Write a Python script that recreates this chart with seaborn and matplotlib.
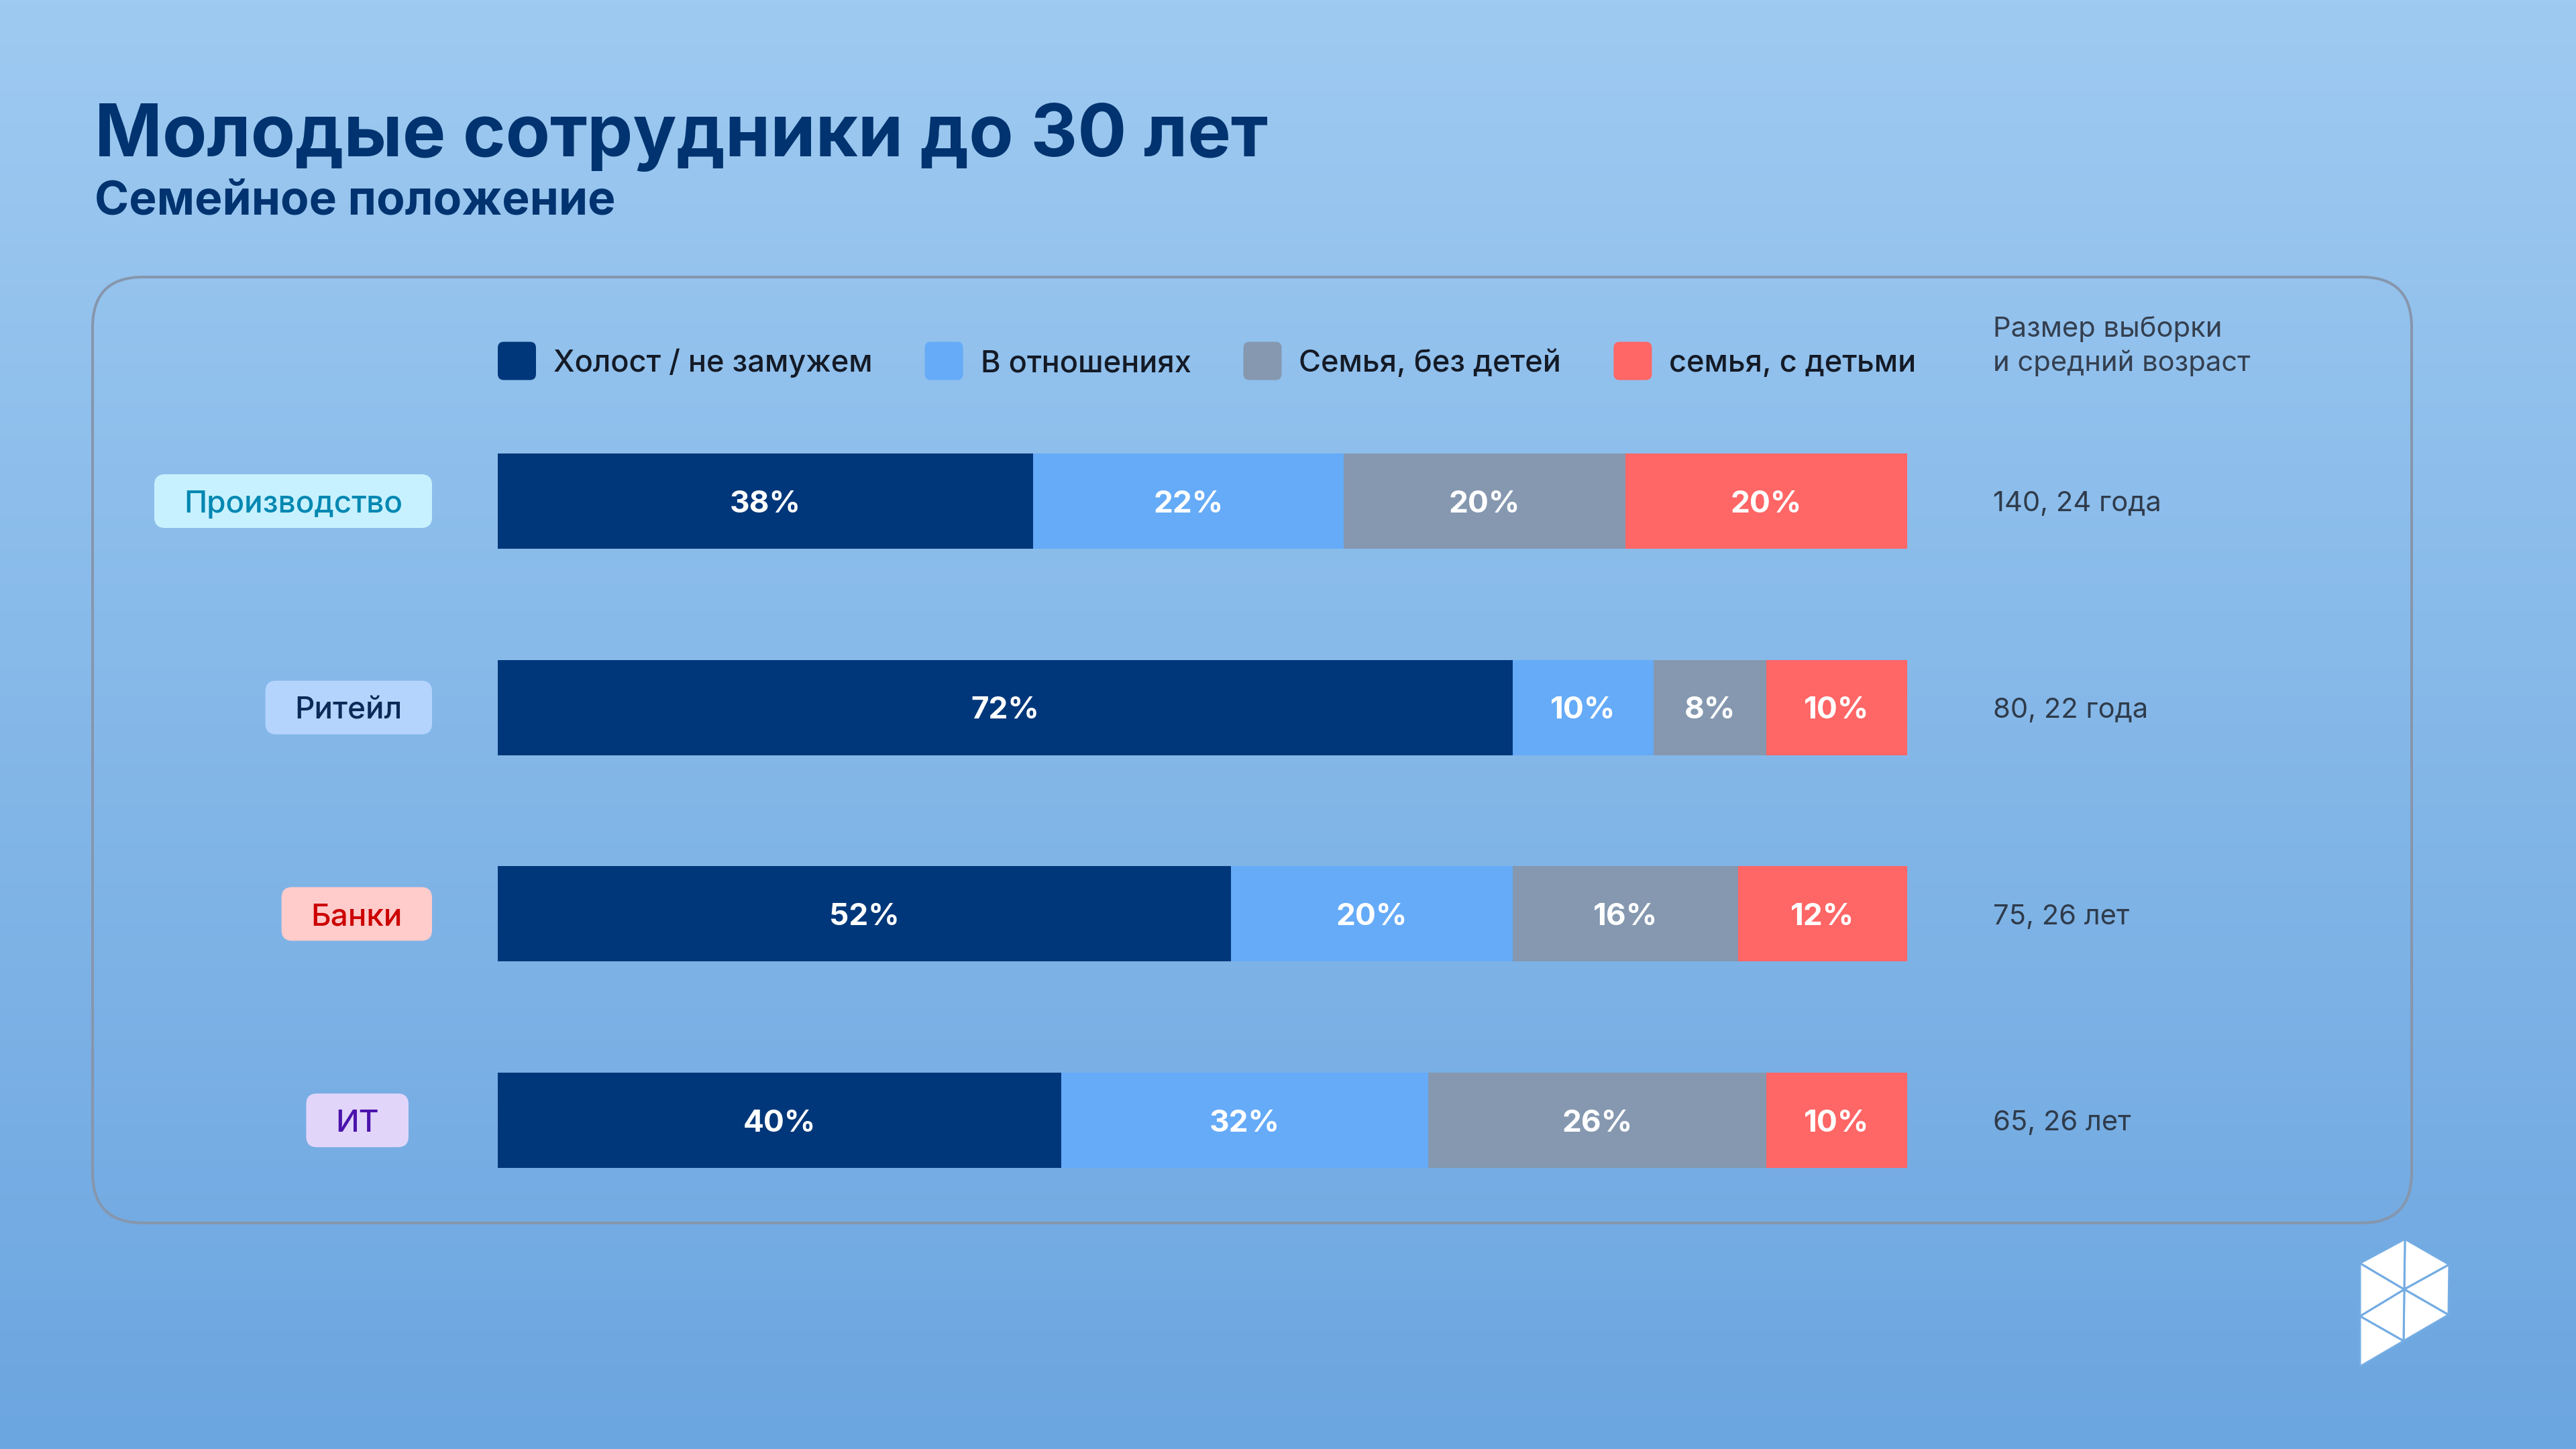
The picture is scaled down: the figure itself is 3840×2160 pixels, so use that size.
import numpy as np
import pandas as pd
import seaborn as sns
import matplotlib.pyplot as plt
from matplotlib import transforms
from matplotlib.colors import LinearSegmentedColormap
from matplotlib.patches import FancyBboxPatch, Polygon

sns.set_style("white")
plt.rcParams['font.family'] = ['Inter', 'DejaVu Sans']

# ---------------------------------
# Data
# ---------------------------------
sectors = ['Производство', 'Ритейл', 'Банки', 'ИТ']
statuses = ['Холост / не замужем', 'В отношениях',
            'Семья, без детей', 'семья, с детьми']

# Bar lengths (%) as drawn in the picture
single = [38, 72, 52, 40]
relationship = [22, 10, 20, 26]
family_no_kids = [20, 8, 16, 24]
family_kids = [20, 10, 12, 10]

# Printed segment labels
single_lbl = ['38%', '72%', '52%', '40%']
relationship_lbl = ['22%', '10%', '20%', '32%']
family_no_kids_lbl = ['20%', '8%', '16%', '26%']
family_kids_lbl = ['20%', '10%', '12%', '10%']

sample_info = ['140, 24 года', '80, 22 года', '75, 26 лет', '65, 26 лет']

title = 'Молодые сотрудники до 30 лет'
subtitle = 'Семейное положение'
side_header = ['Размер выборки', 'и средний возраст']

# ---------------------------------
# Style
# ---------------------------------
colors = ['#00377A', '#65ABF8', '#8598B0', '#FF6666']
pill_face = ['#C8F1FF', '#B4D4FE', '#FFCBCB', '#E1D5FA']
pill_text = ['#0087B2', '#0B2A58', '#CC0000', '#4B13AB']
pill_right = [644, 644, 644, 609]
navy = '#00336F'

W, H = 3840, 2160
fig = plt.figure(figsize=(W / 100, H / 100), dpi=100)

# pixel coordinates, origin top-left
P = transforms.Affine2D().scale(1 / W, -1 / H).translate(0, 1) + fig.transFigure


def cap_px(fs):
    return 0.727 * fs * 100 / 72


def shift(fs):
    return transforms.ScaledTranslation(0, -cap_px(fs) / 2 / 100, fig.dpi_scale_trans)


# Background gradient
bg = fig.add_axes([0, 0, 1, 1], zorder=-10)
cmap = LinearSegmentedColormap.from_list('bg', ['#9ECAF1', '#6CA6E0'])
bg.imshow(np.linspace(0, 1, 256).reshape(-1, 1), aspect='auto', cmap=cmap,
          extent=[0, 1, 0, 1], origin='upper')
bg.set_axis_off()

# ---------------------------------
# Stacked bars
# ---------------------------------
data = pd.DataFrame({'sector': sectors,
                     statuses[0]: single,
                     statuses[1]: relationship,
                     statuses[2]: family_no_kids,
                     statuses[3]: family_kids})
cum = data[statuses].cumsum(axis=1)
cum['sector'] = sectors
labels = [single_lbl, relationship_lbl, family_no_kids_lbl, family_kids_lbl]

row_px = 307.7
ax_top = 747 - row_px / 2
ax = fig.add_axes([742 / W, 1 - (ax_top + 4 * row_px) / H,
                   (2843 - 742) / W, 4 * row_px / H])
ax.patch.set_alpha(0)

for i in reversed(range(len(statuses))):
    sns.barplot(data=cum, x=statuses[i], y='sector', orient='h',
                color=colors[i], saturation=1, width=142 / row_px,
                linewidth=0, errorbar=None, ax=ax)

ax.set_xlim(0, 100)
ax.set_ylim(3.5, -0.5)
ax.set_axis_off()

for i, s in enumerate(statuses):
    for j in range(len(sectors)):
        xc = cum[s][j] - data[s][j] / 2
        ax.text(xc, j, labels[i][j], ha='center', va='baseline',
                color='white', fontsize=33, fontweight='bold',
                transform=ax.transData + shift(33))

# Row-linked texts: x in pixels, y in data
row_t = transforms.blended_transform_factory(P, ax.transData)

fig.canvas.draw()
renderer = fig.canvas.get_renderer()

for j, name in enumerate(sectors):
    t = fig.text(pill_right[j] - 44, j, name, ha='right', va='baseline',
                 fontsize=33, fontweight='medium', color=pill_text[j],
                 transform=row_t + shift(33))
    ext = t.get_window_extent(renderer)
    yc = H - ax.transData.transform((0, j))[1]
    fig.add_artist(FancyBboxPatch((ext.x0 - 44, yc - 40), ext.width + 88, 80,
                                  boxstyle='round,pad=0,rounding_size=16',
                                  fc=pill_face[j], ec='none', transform=P,
                                  zorder=1))
    t.set_zorder(2)

    fig.text(2971, j, sample_info[j], ha='left', va='baseline',
             fontsize=30, color='#2F3B4B', transform=row_t + shift(30))

# Side header
fig.text(2971, 502, side_header[0], transform=P, va='baseline',
         fontsize=30, color='#343F4F')
fig.text(2971, 553, side_header[1], transform=P, va='baseline',
         fontsize=30, color='#343F4F')

# Legend
x = 742
for i, s in enumerate(statuses):
    fig.add_artist(FancyBboxPatch((x, 538 - 28.5), 57, 57,
                                  boxstyle='round,pad=0,rounding_size=9',
                                  fc=colors[i], ec='none', transform=P))
    t = fig.text(x + 83, 538 + cap_px(32.5) / 2, s, transform=P, ha='left',
                 va='baseline', fontsize=32.5, fontweight='medium',
                 color='#141A26')
    x = x + 83 + t.get_window_extent(renderer).width + 78

# Titles
fig.text(141, 233, title, transform=P, fontsize=78, fontweight='bold',
         color=navy, va='baseline')
fig.text(141, 319, subtitle, transform=P, fontsize=50, fontweight='bold',
         color=navy, va='baseline')

# Panel frame
fig.add_artist(FancyBboxPatch((138, 413), 3595 - 138, 1823 - 413,
                              boxstyle='round,pad=0,rounding_size=75',
                              fc='none', ec='#8696AD', lw=2.9, transform=P))

# Logo
top, ul, ur = (3585, 1847), (3518, 1883), (3651, 1885)
c, lr, b = (3584, 1922), (3650, 1960), (3583, 1999)
ll, tip = (3518, 1962), (3518, 2037)
for tri in [(top, ur, c), (ur, lr, c), (lr, b, c), (b, ll, c),
            (ll, ul, c), (ul, top, c), (ll, b, tip)]:
    fig.add_artist(Polygon(tri, closed=True, fc='white', ec='#74ACE3',
                           lw=2.2, transform=P))

fig.savefig('out.png', dpi=100)
